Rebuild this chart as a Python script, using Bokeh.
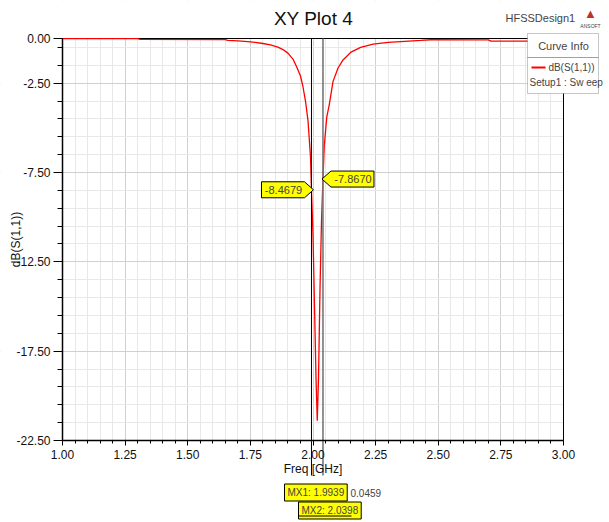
from bokeh.plotting import figure
from bokeh.models import (FixedTicker, Label, BoxAnnotation, Range1d, PrintfTickFormatter, LinearAxis)
from bokeh.embed import file_html
from bokeh.resources import INLINE

# ---- data ----
freq_ghz = [1.00, 1.30, 1.31, 1.65, 1.66, 1.70, 1.74, 1.77, 1.80, 1.83, 1.86, 1.88, 1.90,
            1.92, 1.935, 1.95, 1.96, 1.97, 1.98, 1.99, 1.9939, 2.000, 2.006, 2.012, 2.017,
            2.022, 2.028, 2.034, 2.0398, 2.045, 2.055, 2.065, 2.08, 2.10, 2.12, 2.15, 2.19,
            2.24, 2.30, 2.35, 2.43, 2.47, 2.70, 2.71, 3.00]
s11_db = [-0.01, -0.01, -0.05, -0.06, -0.10, -0.13, -0.18, -0.22, -0.28, -0.36, -0.48, -0.62, -0.82,
          -1.15, -1.60, -2.10, -2.70, -3.50, -4.60, -6.60, -8.4679, -11.0, -15.0, -19.0, -21.4,
          -19.0, -14.0, -10.2, -7.867, -6.0, -4.4, -3.7, -2.4, -1.65, -1.2, -0.78, -0.50,
          -0.32, -0.22, -0.17, -0.11, -0.07, -0.08, -0.15, -0.15]

x_major = [1.00, 1.25, 1.50, 1.75, 2.00, 2.25, 2.50, 2.75, 3.00]
x_minor = [round(1.0 + 0.05 * i, 2) for i in range(41)]
y_major = [0.0, -2.5, -7.5, -12.5, -17.5, -22.5]
y_minor = [-0.5 - i for i in range(22)]

mx_names = ["MX1", "MX2"]
mx_freq = [1.9939, 2.0398]
mx_db = [-8.4679, -7.8670]
mx_delta = 0.0459

FONT = "Liberation Sans"
W, H = 609, 522
# plot-area placement inside the canvas (px)
PL, PR, PT, PB = 62, 563, 38, 440
X0, X1, Y0, Y1 = 1.0, 3.0, -22.5, 0.0
sx = (PR - PL) / (X1 - X0)
sy = (PB - PT) / (Y1 - Y0)
x_range = Range1d(X0 - PL / sx, X1 + (W - PR) / sx)
y_range = Range1d(Y0 - (H - PB) / sy, Y1 + PT / sy)

p = figure(width=W, height=H, output_backend="svg", toolbar_location=None,
           x_range=x_range, y_range=y_range, x_axis_location=None, y_axis_location=None,
           min_border=0)
p.outline_line_color = None

xaxis = LinearAxis(fixed_location=Y0, bounds=(X0, X1))
yaxis = LinearAxis(fixed_location=X0, bounds=(Y0, Y1))
p.add_layout(xaxis, "below")
p.add_layout(yaxis, "left")

for ax in (xaxis, yaxis):
    ax.axis_line_color = "black"
    ax.axis_line_width = 1.5
    ax.major_tick_line_color = "black"
    ax.minor_tick_line_color = "black"
    ax.major_tick_in = 0
    ax.minor_tick_in = 0
    ax.major_label_text_font = FONT
    ax.major_label_text_font_size = "12px"
    ax.major_label_text_color = "#111111"
    ax.axis_label_text_font = FONT
    ax.axis_label_text_font_size = "12px"
    ax.axis_label_text_font_style = "normal"
    ax.axis_label_text_color = "#111111"
    ax.formatter = PrintfTickFormatter(format="%.2f")

xaxis.ticker = FixedTicker(ticks=x_major, minor_ticks=x_minor)
yaxis.ticker = FixedTicker(ticks=y_major, minor_ticks=y_minor)
xaxis.major_tick_out = 5
xaxis.minor_tick_out = 3
xaxis.major_label_standoff = 4
xaxis.axis_label = "Freq [GHz]"
xaxis.axis_label_standoff = 0
yaxis.major_tick_out = 9
yaxis.minor_tick_out = 5
yaxis.major_label_standoff = 3
yaxis.axis_label = "dB(S(1,1))"
yaxis.axis_label_standoff = -10

p.xgrid.ticker = xaxis.ticker
p.ygrid.ticker = yaxis.ticker
p.xgrid.grid_line_color = "#d0d0d0"
p.ygrid.grid_line_color = "#d0d0d0"
p.xgrid.minor_grid_line_color = "#e8e8e8"
p.ygrid.minor_grid_line_color = "#e8e8e8"

# white covers outside the plot area (hide grid lines there)
xl, xh = x_range.start, x_range.end
yl, yh = y_range.start, y_range.end
for kw in (dict(left=xl, right=X0, bottom=yl, top=yh), dict(left=X1, right=xh, bottom=yl, top=yh),
           dict(left=xl, right=xh, bottom=Y1, top=yh), dict(left=xl, right=xh, bottom=yl, top=Y0)):
    p.add_layout(BoxAnnotation(fill_color="white", fill_alpha=1, line_color=None,
                               level="underlay", **kw))
# plot area border
p.add_layout(BoxAnnotation(left=X0, right=X1, bottom=Y0, top=Y1, fill_alpha=0,
                           line_color="black", line_width=1, line_alpha=1, level="underlay"))

# curve
p.line(freq_ghz, s11_db, line_color="#ff0000", line_width=1.3)

# marker lines (extend a little below the axis, as in HFSS)
ybot = Y0 - 35 / sy
p.segment(x0=[mx_freq[0]], y0=[Y1], x1=[mx_freq[0]], y1=[ybot], line_color="black", line_width=1)
p.segment(x0=[mx_freq[1]], y0=[Y1], x1=[mx_freq[1]], y1=[ybot], line_color="#777777", line_width=1.6)

# callouts on the markers
dxp, dyp = 1 / sx, 1 / sy
tx, ty = mx_freq[0] + 2 * dxp, mx_db[0]
p.patch([tx, tx - 9 * dxp, tx - 52 * dxp, tx - 52 * dxp, tx - 9 * dxp],
        [ty, ty + 8 * dyp, ty + 8 * dyp, ty - 8 * dyp, ty - 8 * dyp],
        fill_color="#ffff00", line_color="black", line_width=1)
p.add_layout(Label(x=tx - 30 * dxp, y=ty, text=f"{mx_db[0]:.4f}", text_align="center",
                   text_baseline="middle", text_font=FONT, text_font_size="11px"))
tx2, ty2 = mx_freq[1] - 1 * dxp, mx_db[1]
p.patch([tx2, tx2 + 9 * dxp, tx2 + 52 * dxp, tx2 + 52 * dxp, tx2 + 9 * dxp],
        [ty2, ty2 + 8 * dyp, ty2 + 8 * dyp, ty2 - 8 * dyp, ty2 - 8 * dyp],
        fill_color="#ffff00", line_color="black", line_width=1)
p.add_layout(Label(x=tx2 + 31 * dxp, y=ty2, text=f"{mx_db[1]:.4f}", text_align="center",
                   text_baseline="middle", text_font=FONT, text_font_size="11px"))

def scr(**kw):
    return dict(x_units="screen", y_units="screen", **kw)

# title and design name
p.add_layout(Label(**scr(x=313, y=H - 18, text="XY Plot 4", text_align="center",
                         text_baseline="middle", text_font=FONT, text_font_size="19px",
                         text_color="#111111")))
p.add_layout(Label(**scr(x=505, y=H - 17, text="HFSSDesign1", text_align="left",
                         text_baseline="middle", text_font=FONT, text_font_size="11px")))
p.add_layout(Label(**scr(x=590, y=H - 13, text="\u25b2", text_align="center",
                         text_baseline="middle", text_color="#c03030", text_font_size="13px")))
p.add_layout(Label(**scr(x=590, y=H - 25, text="ANSOFT", text_align="center",
                         text_baseline="middle", text_font=FONT, text_font_size="5px")))

# legend box (Curve Info)
sb = dict(left_units="screen", right_units="screen", top_units="screen", bottom_units="screen")
p.add_layout(BoxAnnotation(left=527, right=598, top=H - 33, bottom=H - 93, fill_color="white",
                           fill_alpha=1, line_color="#444444", line_width=1, **sb))
p.add_layout(BoxAnnotation(left=527, right=598, top=H - 57, bottom=H - 57, fill_alpha=0,
                           line_color="#444444", line_width=1, **sb))
p.add_layout(BoxAnnotation(left=531, right=545, top=H - 66, bottom=H - 68, fill_color="#ff0000",
                           fill_alpha=1, line_color=None, **sb))
p.add_layout(Label(**scr(x=563, y=H - 45, text="Curve Info", text_align="center",
                         text_baseline="middle", text_font=FONT, text_font_size="11px")))
p.add_layout(Label(**scr(x=594, y=H - 67, text="dB(S(1,1))", text_align="right",
                         text_baseline="middle", text_font=FONT, text_font_size="10px")))
p.add_layout(Label(**scr(x=529, y=H - 82, text="Setup1 : Sw eep", text_align="left",
                         text_baseline="middle", text_font=FONT, text_font_size="10px")))

# marker table below the axis
p.add_layout(Label(**scr(x=284, y=H - 492, text=f"{mx_names[0]}: {mx_freq[0]:.4f}",
                         text_align="left", text_baseline="middle", text_font=FONT,
                         text_font_size="10px", background_fill_color="#ffff00",
                         border_line_color="black", padding=3)))
p.add_layout(Label(**scr(x=350, y=H - 492, text=f"{mx_delta:.4f}", text_align="left",
                         text_baseline="middle", text_font=FONT, text_font_size="10px")))
p.add_layout(Label(**scr(x=298, y=H - 510, text=f"{mx_names[1]}: {mx_freq[1]:.4f}",
                         text_align="left", text_baseline="middle", text_font=FONT,
                         text_font_size="10px", background_fill_color="#ffff00",
                         border_line_color="black", padding=3)))
p.add_layout(BoxAnnotation(left=298, right=351, top=H - 515, bottom=H - 516, fill_color="black",
                           fill_alpha=1, line_color=None, **sb))

open("out.html", "w").write(file_html(p, INLINE))
